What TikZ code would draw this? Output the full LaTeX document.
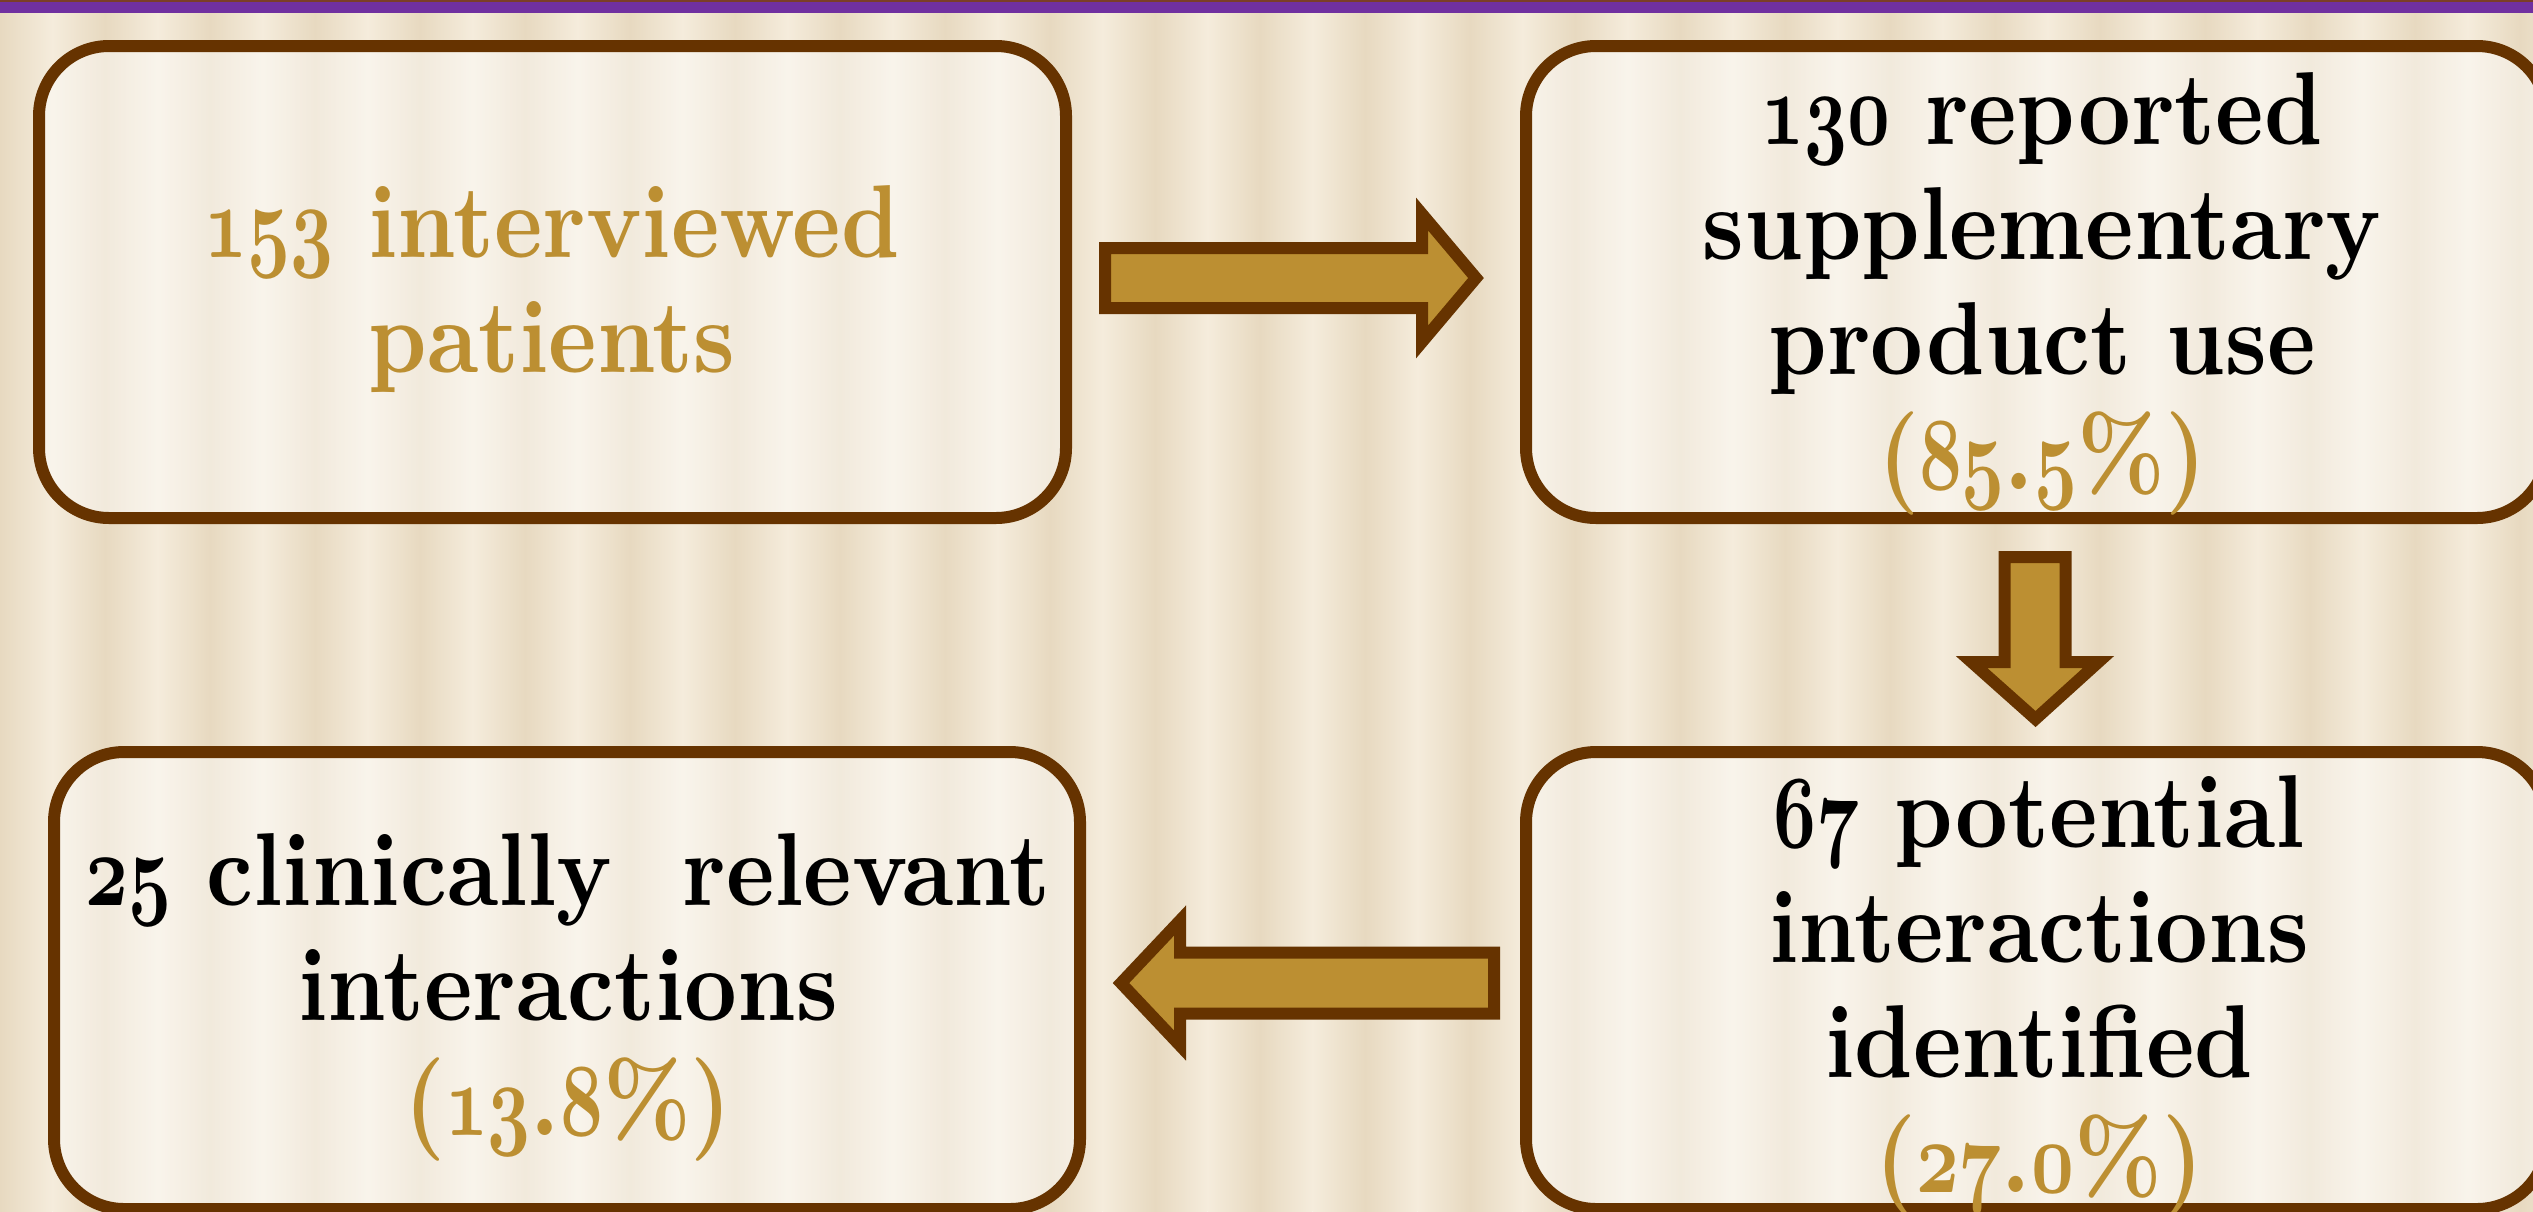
\RequirePackage{fix-cm}
\documentclass[tikz,border=0pt]{standalone}
\usepackage{fontspec}
\setmainfont{lmroman10-regular.otf}[BoldFont=lmroman10-bold.otf,FakeStretch=0.885]
\usepackage{graphicx}
\usetikzlibrary{calc}
\definecolor{gold}{RGB}{188,143,50}
\definecolor{brownline}{RGB}{102,51,0}
\definecolor{bandpurple}{RGB}{112,48,160}
\definecolor{bandtop}{RGB}{122,62,40}
\definecolor{bgdark}{RGB}{231,217,192}
\definecolor{bglight}{RGB}{245,236,220}
\newcommand\osn[1]{\scalebox{0.72}[1]{\usefont{OML}{cmm}{b}{it}#1}}
\begin{document}
\begin{tikzpicture}[x=0.1mm,y=-0.1mm,
  box/.style={draw=brownline, line width=1.2mm, rounded corners=7mm, fill=white, fill opacity=0.45, draw opacity=1, inner sep=0pt, outer sep=0pt},
  boxtext/.style={anchor=base, align=center, font=\fontsize{29.5}{32.7}\selectfont\bfseries, inner sep=0pt},
  barrow/.style={draw=brownline, line width=1.2mm, fill=gold, line join=miter}]
\useasboundingbox (0,0) rectangle (2533,1211);
\clip (0,0) rectangle (2533,1211);
% background stripes
\fill[bglight] (0,0) rectangle (2533,1211);
\foreach \i in {0,...,24} {
  \shade[left color=bgdark, right color=bglight] (\i*105,0) rectangle ++(52.5,1211);
  \shade[left color=bglight, right color=bgdark] (\i*105+52.5,0) rectangle ++(52.5,1211);
}
% top band
\fill[bandpurple] (0,0) rectangle (2533,13);
\fill[bandtop] (0,0) rectangle (2533,2);
% boxes
\node[box, minimum width=102.7mm, minimum height=47.2mm] (b1) at (552.5,282) {};
\node[box, minimum width=102.1mm, minimum height=47.2mm] (b2) at (2036.5,282) {};
\node[box, minimum width=102.6mm, minimum height=45.7mm] (b3) at (567,980.5) {};
\node[box, minimum width=102.1mm, minimum height=45.7mm] (b4) at (2036.5,980.5) {};
% block arrows
\coordinate (m1) at ($(b1.east)!0.5!(b2.west)$);
\draw[barrow] ($(m1)+(-191,-34)$) -- ++(317,0) -- ++(0,-34) -- ++(54,64) -- ++(-54,64) -- ++(0,-34) -- ++(-317,0) -- cycle;
\coordinate (m2) at ($(b2.south)!0.5!(b4.north)$);
\draw[barrow] ($(m2)+(-32,-78)$) -- ++(61,0) -- ++(0,105) -- ++(33,0) -- ++(-63,57) -- ++(-64,-57) -- ++(33,0) -- cycle;
\coordinate (m3) at ($(b3.east)!0.5!(b4.west)$);
\draw[barrow] ($(m3)+(191,-28)$) -- ++(-314,0) -- ++(0,-32) -- ++(-59,62.5) -- ++(59,62.5) -- ++(0,-32) -- ++(314,0) -- cycle;
% texts (base = baseline of the last line)
\node[boxtext, text=gold] (t1) at (552,372) {\osn{153} interviewed\\patients};
\node[boxtext] (t2) at (2042,489) {\osn{130} reported\\supplementary\\product use\\\textcolor{gold}{(\osn{85}.\osn{5}\%)}};
\node[boxtext] (t3) at (568,1135) {\osn{25} clinically\ \ relevant\\interactions\\\textcolor{gold}{(\osn{13}.\osn{8}\%)}};
\node[boxtext] (t4) at (2039,1192) {\osn{67} potential\\interactions\\identified\\\textcolor{gold}{(\osn{27}.\osn{0}\%)}};
\end{tikzpicture}
\end{document}
